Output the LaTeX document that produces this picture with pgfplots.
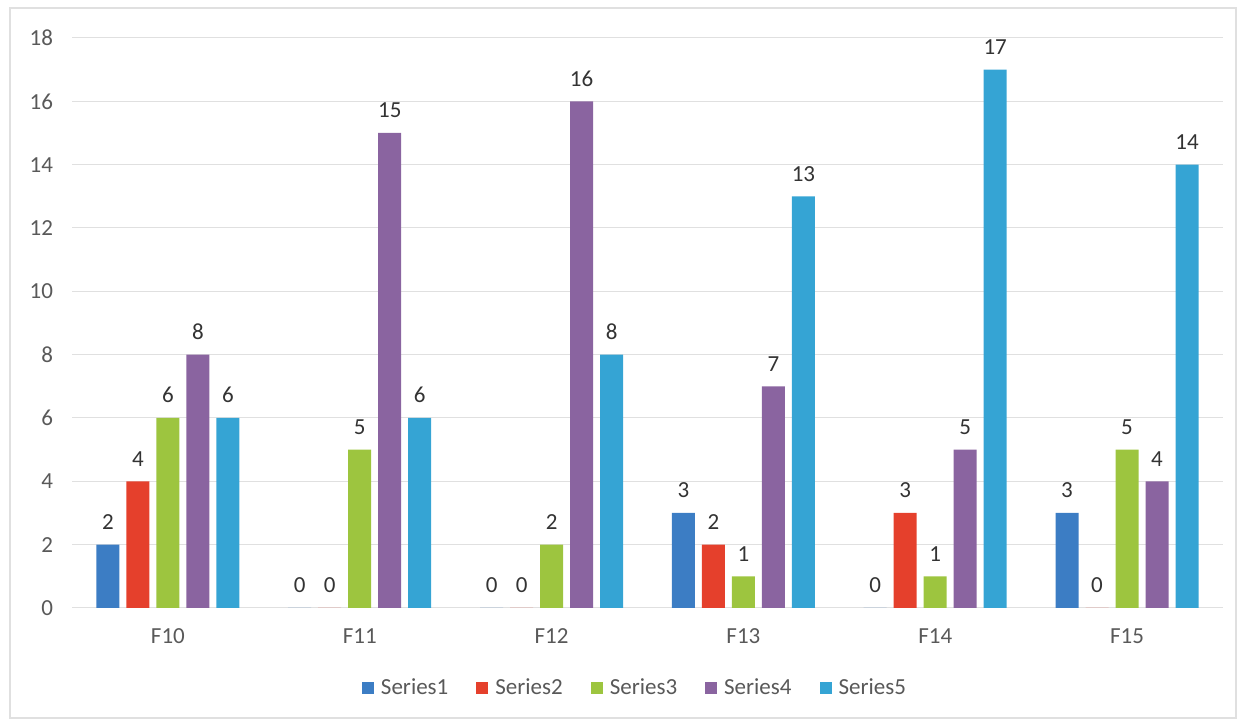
\documentclass[border=0pt]{standalone}
\usepackage{fontspec}
\setmainfont{Carlito}
\usepackage{pgfplots}
\pgfplotsset{compat=1.18}
\definecolor{sOne}{HTML}{3C7DC4}
\definecolor{sTwo}{HTML}{E5402C}
\definecolor{sThree}{HTML}{9DC53F}
\definecolor{sFour}{HTML}{8A64A0}
\definecolor{sFive}{HTML}{35A4D4}
\definecolor{tickgray}{HTML}{595959}
\begin{document}
\begin{tikzpicture}
\begin{axis}[
  name=ax, at={(0,0)}, anchor=south west,
  scale only axis, width=575.5pt, height=285pt,
  ymin=0, ymax=18, ytick={0,2,...,18},
  xmin=-0.5, xmax=5.5, xtick={0,...,5},
  xticklabels={F10,F11,F12,F13,F14,F15},
  ybar=3.5pt, bar width=11.5pt,
  axis line style={draw=none}, major tick length=0pt,
  ymajorgrids, grid style={draw=black!12, line width=0.5pt},
  tick label style={font=\fontsize{11.5}{13}\selectfont, text=tickgray},
  /pgf/number format/assume math mode=true,
  yticklabel style={xshift=-6pt},
  xticklabel style={yshift=-7pt},
  nodes near coords,
  every node near coord/.append style={font=\fontsize{11.5}{13}\selectfont, text=black!80, yshift=4pt},
  legend style={at={(0.49,-0.14)}, anchor=center, draw=none, font=\fontsize{11.5}{13}\selectfont, text=tickgray,
    /tikz/every odd column/.append style={column sep=1.5pt},
    /tikz/every even column/.append style={column sep=12pt}},
  legend columns=5,
  legend image code/.code={\fill[#1] (0pt,-3pt) rectangle (6pt,3pt);},
  clip=false,
]
\addplot[fill=sOne, draw=none] coordinates {(0,2) (1,0) (2,0) (3,3) (4,0) (5,3)};
\addplot[fill=sTwo, draw=none] coordinates {(0,4) (1,0) (2,0) (3,2) (4,3) (5,0)};
\addplot[fill=sThree, draw=none] coordinates {(0,6) (1,5) (2,2) (3,1) (4,1) (5,5)};
\addplot[fill=sFour, draw=none] coordinates {(0,8) (1,15) (2,16) (3,7) (4,5) (5,4)};
\addplot[fill=sFive, draw=none] coordinates {(0,6) (1,6) (2,8) (3,13) (4,17) (5,14)};
\legend{Series1,Series2,Series3,Series4,Series5}
\end{axis}
\path[use as bounding box] ([shift={(-36pt,-59pt)}]ax.south west) rectangle ([shift={(585.5pt,304pt)}]ax.south west);
\draw[black!12, line width=0.6pt] ([shift={(-31pt,-55pt)}]ax.south west) rectangle ([shift={(582pt,300pt)}]ax.south west);
\end{tikzpicture}
\end{document}
